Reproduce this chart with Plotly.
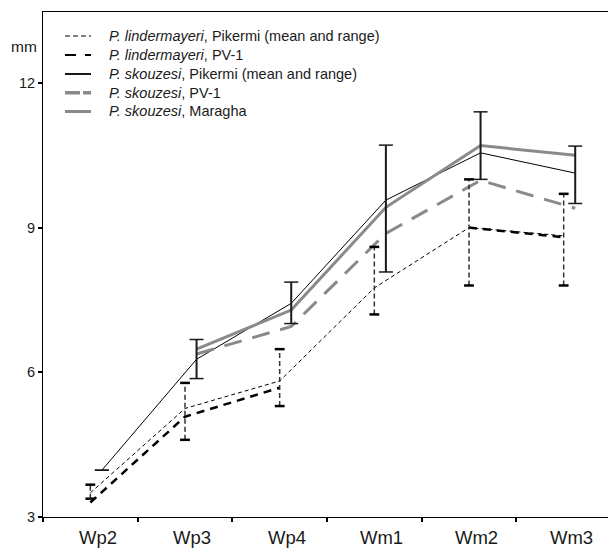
import plotly.graph_objects as go

categories = ["Wp2", "Wp3", "Wp4", "Wm1", "Wm2", "Wm3"]

lind_pik_mean = [3.50, 5.25, 5.82, 7.75, 9.00, 8.83]
lind_pik_low = [3.38, 4.60, 5.30, 7.20, 7.80, 7.80]
lind_pik_high = [3.67, 5.78, 6.48, 8.60, 10.00, 9.70]

lind_pv1 = [3.30, 5.08, 5.68, None, 9.00, 8.80]

skou_pik_mean = [3.97, 6.27, 7.43, 9.57, 10.55, 10.13]
skou_pik_low = [3.97, 5.87, 7.01, 8.08, 10.00, 9.50]
skou_pik_high = [3.97, 6.68, 7.87, 10.71, 11.40, 10.69]

skou_pv1 = [None, 6.38, 6.95, 8.88, 9.98, 9.40]
skou_mar = [None, 6.48, 7.29, 9.42, 10.70, 10.50]

series_names = [
    "<i>P. lindermayeri</i>, Pikermi (mean and range)",
    "<i>P. lindermayeri</i>, PV-1",
    "<i>P. skouzesi</i>, Pikermi (mean and range)",
    "<i>P. skouzesi</i>, PV-1",
    "<i>P. skouzesi</i>, Maragha",
]

yticks = [3, 6, 9, 12]

FONT = "Liberation Sans, Arial, sans-serif"
GREY = "#8a8a8a"
TXT = "#1a1a1a"

# the page body adds an 8px margin; work in screenshot pixels and shift
OFF = 8
W, H = 616 - OFF, 550 - OFF
# plot-area geometry in screenshot pixels
SL, SR, ST, SB = 43, 611, 12, 517
L, R, T, B = SL - OFF, SR - OFF, ST - OFF, SB - OFF


def px_x(px):
    return (px - SL) / (SR - SL)


def px_y(py):
    return 1 - (py - ST) / (SB - ST)


idx = list(range(len(categories)))
lx = [i for i in idx]
sx = [i + 0.122 for i in idx]

fig = go.Figure()

fig.add_trace(go.Scatter(x=lx, y=lind_pik_mean, mode="lines",
                         line=dict(color="black", width=1, dash="4px,3px"),
                         name=series_names[0]))
fig.add_trace(go.Scatter(x=lx, y=lind_pv1, mode="lines",
                         line=dict(color="black", width=2.5, dash="8px,6px"),
                         name=series_names[1], connectgaps=False))
fig.add_trace(go.Scatter(x=sx, y=skou_pik_mean, mode="lines",
                         line=dict(color="black", width=1),
                         name=series_names[2]))
fig.add_trace(go.Scatter(x=sx, y=skou_pv1, mode="lines",
                         line=dict(color=GREY, width=3, dash="18px,11px"),
                         name=series_names[3]))
fig.add_trace(go.Scatter(x=sx, y=skou_mar, mode="lines",
                         line=dict(color=GREY, width=3),
                         name=series_names[4]))

# range bars: lindermayeri Pikermi (dashed)
bx, by = [], []
for x, lo, hi in zip(lx, lind_pik_low, lind_pik_high):
    bx += [x, x, None]
    by += [lo, hi, None]
fig.add_trace(go.Scatter(x=bx, y=by, mode="lines",
                         line=dict(color="#333333", width=1.5, dash="5px,3px")))
fig.add_trace(go.Scatter(x=lx + lx, y=lind_pik_low + lind_pik_high, mode="markers",
                         marker=dict(symbol="line-ew", size=7,
                                     line=dict(color="black", width=2.5))))

# range bars: skouzesi Pikermi (solid)
bx, by = [], []
for x, lo, hi in zip(sx, skou_pik_low, skou_pik_high):
    bx += [x, x, None]
    by += [lo, hi, None]
fig.add_trace(go.Scatter(x=bx, y=by, mode="lines",
                         line=dict(color=TXT, width=2)))
fig.add_trace(go.Scatter(x=sx + sx, y=skou_pik_low + skou_pik_high, mode="markers",
                         marker=dict(symbol="line-ew", size=10,
                                     line=dict(color=TXT, width=1.5))))

# manual legend (samples + labels)
legend_styles = [
    dict(color="#555555", width=1.3, dash="5px,3px"),
    dict(color="black", width=2.2, dash="11px,9px"),
    dict(color=TXT, width=2),
    dict(color=GREY, width=3.5, dash="15px,3px"),
    dict(color=GREY, width=3),
]
row_y = [36, 55, 74, 92.7, 111.5]
shapes = []
annotations = []
for name, st, ry in zip(series_names, legend_styles, row_y):
    shapes.append(dict(type="line", xref="paper", yref="paper",
                       x0=px_x(65), x1=px_x(91), y0=px_y(ry), y1=px_y(ry),
                       line=st))
    annotations.append(dict(text=name, xref="paper", yref="paper",
                            x=px_x(107), y=px_y(ry), xanchor="left", yanchor="middle",
                            showarrow=False,
                            font=dict(size=14.5, family=FONT, color=TXT)))

annotations.append(dict(text="mm", xref="paper", yref="paper",
                        x=px_x(23.5), y=px_y(46.5), xanchor="center", yanchor="middle",
                        showarrow=False, font=dict(size=15.5, family=FONT, color=TXT)))

# category labels under the axis
for i, cat in zip(idx, categories):
    annotations.append(dict(text=cat, xref="x", yref="paper",
                            x=i + 0.078, y=px_y(537), xanchor="center", yanchor="middle",
                            showarrow=False,
                            font=dict(size=18.5, family=FONT, color=TXT)))

fig.update_layout(
    width=W, height=H,
    margin=dict(l=L, r=W - R, t=T, b=H - B),
    paper_bgcolor="white", plot_bgcolor="white",
    font=dict(family=FONT, color=TXT, size=14),
    showlegend=False,
    xaxis=dict(range=[-0.5, 5.5], showgrid=False, zeroline=False,
               showline=True, linecolor="black", linewidth=1, mirror=True,
               showticklabels=False, tickmode="array",
               tickvals=[i - 0.5 for i in range(7)],
               ticks="outside", ticklen=4, tickwidth=2, tickcolor="black"),
    yaxis=dict(range=[3, 13.47], showgrid=False, zeroline=False,
               showline=True, linecolor="black", linewidth=1, mirror=True,
               tickmode="array", tickvals=yticks, ticks="outside", ticklen=4,
               tickwidth=1.5, tickcolor="black",
               tickfont=dict(size=14.5, family=FONT, color=TXT)),
    shapes=shapes,
    annotations=annotations,
)

fig.write_html("out.html")
